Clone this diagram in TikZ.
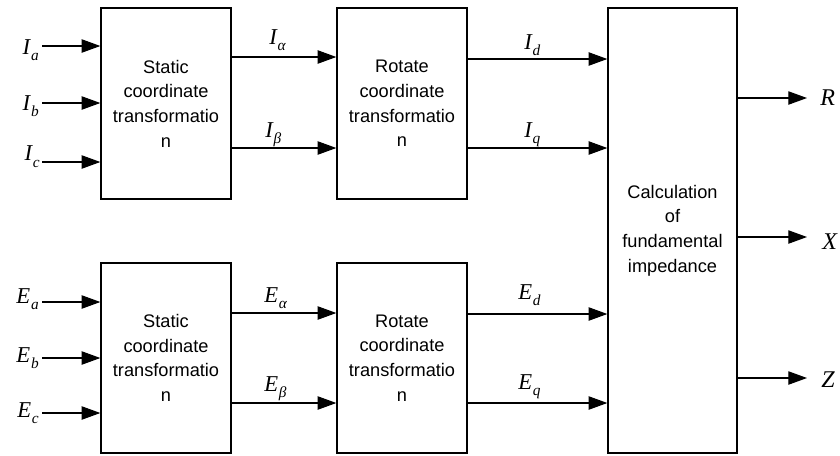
\documentclass[tikz,border=0pt]{standalone}
\usepackage{fontspec}
\setmainfont{Liberation Sans}
\newfontfamily\tmsfont{Liberation Serif}
\usetikzlibrary{arrows.meta}
\newcommand\sig[2]{{\tmsfont\itshape\fontsize{17}{17}\selectfont #1\kern0.6pt\raisebox{-5pt}{\fontsize{11.5}{11.5}\selectfont #2}}}
\newcommand\outl[1]{{\tmsfont\itshape\fontsize{18}{18}\selectfont #1}}
\tikzset{
  blockbox/.style={draw, line width=1pt, inner sep=0pt, align=center,
    font=\fontsize{13.65}{18.5}\selectfont, minimum width=97.5pt},
  arr/.style={line width=0.8pt, -{Triangle[length=14pt,width=10pt]}},
  lbl/.style={inner sep=0pt}
}
\begin{document}
\begin{tikzpicture}[x=0.75pt,y=-0.75pt]
\useasboundingbox (0,0) rectangle (840,455);
% blocks
\node[blockbox, minimum height=143.25pt] (s1) at (166,103.5) {Static\\coordinate\\transformatio\\n};
\node[blockbox, minimum height=143.25pt] (r1) at (402,103.5) {Rotate\\coordinate\\transformatio\\n};
\node[blockbox, minimum height=142.5pt] (s2) at (166,358) {Static\\coordinate\\transformatio\\n};
\node[blockbox, minimum height=142.5pt] (r2) at (402,358) {Rotate\\coordinate\\transformatio\\n};
\node[blockbox, minimum width=96.75pt, minimum height=333.75pt] (calc) at (672.5,230.5) {Calculation\\of\\fundamental\\impedance};
% input start points
\coordinate (pia) at (42,46);
\coordinate (pib) at (42,103);
\coordinate (pic) at (42,162);
\coordinate (pea) at (42,302);
\coordinate (peb) at (42,358);
\coordinate (pec) at (42,413);
\draw[arr] (pia) -- (pia -| s1.west);
\draw[arr] (pib) -- (pib -| s1.west);
\draw[arr] (pic) -- (pic -| s1.west);
\draw[arr] (pea) -- (pea -| s2.west);
\draw[arr] (peb) -- (peb -| s2.west);
\draw[arr] (pec) -- (pec -| s2.west);
\node[lbl, anchor=base east] (lia) at (39,54) {\sig{I}{a}};
\node[lbl, anchor=base east] (lib) at (39,110) {\sig{I}{b}};
\node[lbl, anchor=base east] (lic) at (40,160.5) {\sig{I}{c}};
\node[lbl, anchor=base east] (lea) at (39,303) {\sig{E}{a}};
\node[lbl, anchor=base east] (leb) at (39,362) {\sig{E}{b}};
\node[lbl, anchor=base east] (lec) at (39,417) {\sig{E}{c}};
% levels
\coordinate (y1) at (0,57);
\coordinate (y2) at (0,148);
\coordinate (y3) at (0,313);
\coordinate (y4) at (0,403);
\coordinate (y5) at (0,59);
\coordinate (y6) at (0,314);
\draw[arr] (s1.east |- y1) -- (r1.west |- y1);
\draw[arr] (s1.east |- y2) -- (r1.west |- y2);
\draw[arr] (s2.east |- y3) -- (r2.west |- y3);
\draw[arr] (s2.east |- y4) -- (r2.west |- y4);
\draw[arr] (r1.east |- y5) -- (calc.west |- y5);
\draw[arr] (r1.east |- y2) -- (calc.west |- y2);
\draw[arr] (r2.east |- y6) -- (calc.west |- y6);
\draw[arr] (r2.east |- y4) -- (calc.west |- y4);
\node[lbl, anchor=base west] (lal) at (269,44) {\sig{I}{\char"03B1}};
\node[lbl, anchor=base west] (lbe) at (265,137) {\sig{I}{\char"03B2}};
\node[lbl, anchor=base west] (lea2) at (264,302) {\sig{E}{\char"03B1}};
\node[lbl, anchor=base west] (leb2) at (264,391) {\sig{E}{\char"03B2}};
\node[lbl, anchor=base west] (lid) at (524,49) {\sig{I}{d}};
\node[lbl, anchor=base west] (liq) at (524,137) {\sig{I}{q}};
\node[lbl, anchor=base west] (led) at (518,299) {\sig{E}{d}};
\node[lbl, anchor=base west] (leq) at (518,389) {\sig{E}{q}};
% outputs
\coordinate (oR) at (807,98);
\coordinate (oX) at (807,237);
\coordinate (oZ) at (807,378);
\draw[arr] (calc.east |- oR) -- (oR);
\draw[arr] (calc.east |- oX) -- (oX);
\draw[arr] (calc.east |- oZ) -- (oZ);
\node[lbl, anchor=base west] (lR) at (820,105) {\outl{R}};
\node[lbl, anchor=base west] (lX) at (822,249) {\outl{X}};
\node[lbl, anchor=base west] (lZ) at (821,387) {\outl{Z}};
\end{tikzpicture}
\end{document}
